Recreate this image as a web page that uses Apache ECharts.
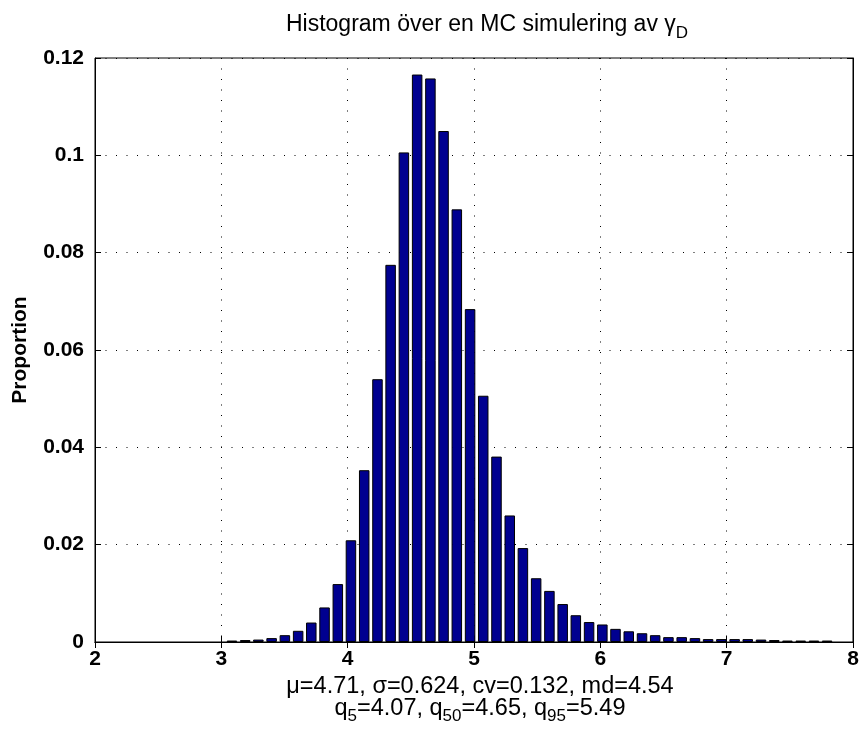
<!DOCTYPE html>
<html>
<head>
<meta charset="utf-8">
<script src="https://cdn.jsdelivr.net/npm/echarts@6/dist/echarts.min.js"></script>
<style>
html, body { margin: 0; padding: 0; background: #fff; }
#chart { width: 865px; height: 737px; }
</style>
</head>
<body>
<div id="chart"></div>
<script>
// bin centres and proportion per bin
const binCenters = [3.084, 3.189, 3.293, 3.398, 3.503, 3.608, 3.712, 3.817, 3.922, 4.026,
    4.131, 4.236, 4.340, 4.445, 4.550, 4.655, 4.759, 4.864, 4.969, 5.073,
    5.178, 5.283, 5.387, 5.492, 5.597, 5.702, 5.806, 5.911, 6.016, 6.120,
    6.225, 6.330, 6.434, 6.539, 6.644, 6.749, 6.853, 6.958, 7.063, 7.167,
    7.272, 7.377, 7.481, 7.586, 7.691, 7.795];
const proportions = [0.0003, 0.0004, 0.0005, 0.0008, 0.0014, 0.0023, 0.0040, 0.0071, 0.0119, 0.0209,
    0.0353, 0.0540, 0.0775, 0.1006, 0.1166, 0.1158, 0.1050, 0.0889, 0.0684, 0.0506,
    0.0381, 0.0260, 0.0193, 0.0131, 0.0105, 0.0078, 0.0055, 0.0041, 0.0036, 0.0027,
    0.0022, 0.0018, 0.0014, 0.0010, 0.0010, 0.0008, 0.0006, 0.0006, 0.0006, 0.0006,
    0.0005, 0.0004, 0.0003, 0.0003, 0.0003, 0.0003];
const xTicks = [2, 3, 4, 5, 6, 7, 8];
const yTicks = [0, 0.02, 0.04, 0.06, 0.08, 0.1, 0.12];
const statsLine1 = 'μ=4.71, σ=0.624, cv=0.132, md=4.54';
const statsLine2 = [['q', '5', '=4.07, '], ['q', '50', '=4.65, '], ['q', '95', '=5.49']];

const font = "'Liberation Sans', Arial, sans-serif";

let chart = echarts.init(document.getElementById("chart"), null, { renderer: "canvas" });

const dotted = { show: true, lineStyle: { color: "#000", width: 1, type: [1, 9.5] } };
const tickIn = { show: true, inside: true, length: 6, lineStyle: { color: "#000" } };

let line2 = statsLine2.map(p => "{n|" + p[0] + "}{s|" + p[1] + "}{n|" + p[2] + "}").join("");

let option = {
    animation: false,
    backgroundColor: "#fff",
    title: [
        {
            text: "{t|Histogram över en MC simulering av γ}{s|D}",
            left: 482,
            top: 8,
            textAlign: "center",
            textStyle: {
                fontWeight: "normal",
                rich: {
                    t: { fontFamily: font, fontSize: 23, fontWeight: "normal", color: "#000", lineHeight: 25, verticalAlign: "top" },
                    s: { fontFamily: font, fontSize: 17, fontWeight: "normal", color: "#000", lineHeight: 18, padding: [12, 0, 0, 0], verticalAlign: "top" },
                },
            },
        },
        {
            text: "{n|" + statsLine1 + "}\n" + line2,
            left: 475,
            top: 670,
            textAlign: "center",
            textStyle: {
                fontWeight: "normal",
                rich: {
                    n: { fontFamily: font, fontSize: 23.5, fontWeight: "normal", color: "#000", lineHeight: 22, verticalAlign: "top" },
                    s: { fontFamily: font, fontSize: 17, fontWeight: "normal", color: "#000", lineHeight: 16, padding: [11, 0, 0, 0], verticalAlign: "top" },
                },
            },
        },
    ],
    grid: {
        show: true,
        left: 95,
        right: 12,
        top: 58,
        bottom: 95,
        outerBoundsMode: "none",
        borderColor: "#000",
        borderWidth: 1,
    },
    xAxis: [
        {
            type: "value",
            min: xTicks[0],
            max: xTicks[xTicks.length - 1],
            interval: 1,
            axisLine: { show: true, lineStyle: { color: "#000", width: 1 } },
            axisTick: tickIn,
            axisLabel: { color: "#000", fontFamily: font, fontSize: 21, fontWeight: "bold", margin: 7 },
            splitLine: dotted,
        },
        {
            type: "value",
            position: "top",
            min: xTicks[0],
            max: xTicks[xTicks.length - 1],
            interval: 1,
            axisLine: { show: true, lineStyle: { color: "#000" } },
            axisTick: tickIn,
            axisLabel: { show: false },
            splitLine: { show: false },
        },
    ],
    yAxis: [
        {
            type: "value",
            min: yTicks[0],
            max: yTicks[yTicks.length - 1],
            interval: 0.02,
            name: "Proportion",
            nameLocation: "middle",
            nameGap: 64,
            nameTextStyle: { color: "#000", fontFamily: font, fontSize: 21, fontWeight: "bold" },
            axisLine: { show: true, lineStyle: { color: "#000" } },
            axisTick: tickIn,
            axisLabel: { color: "#000", fontFamily: font, fontSize: 21, fontWeight: "bold", margin: 11 },
            splitLine: dotted,
        },
        {
            type: "value",
            position: "right",
            min: yTicks[0],
            max: yTicks[yTicks.length - 1],
            interval: 0.02,
            axisLine: { show: true, lineStyle: { color: "#000" } },
            axisTick: tickIn,
            axisLabel: { show: false },
            splitLine: { show: false },
        },
    ],
    series: [
        {
            type: "bar",
            xAxisIndex: 0,
            yAxisIndex: 0,
            barWidth: 10.5,
            itemStyle: { color: "#000090", borderColor: "#000", borderWidth: 1 },
            data: binCenters.map((c, i) => [c, proportions[i]]),
        },
    ],
};

chart.setOption(option);
</script>
</body>
</html>
